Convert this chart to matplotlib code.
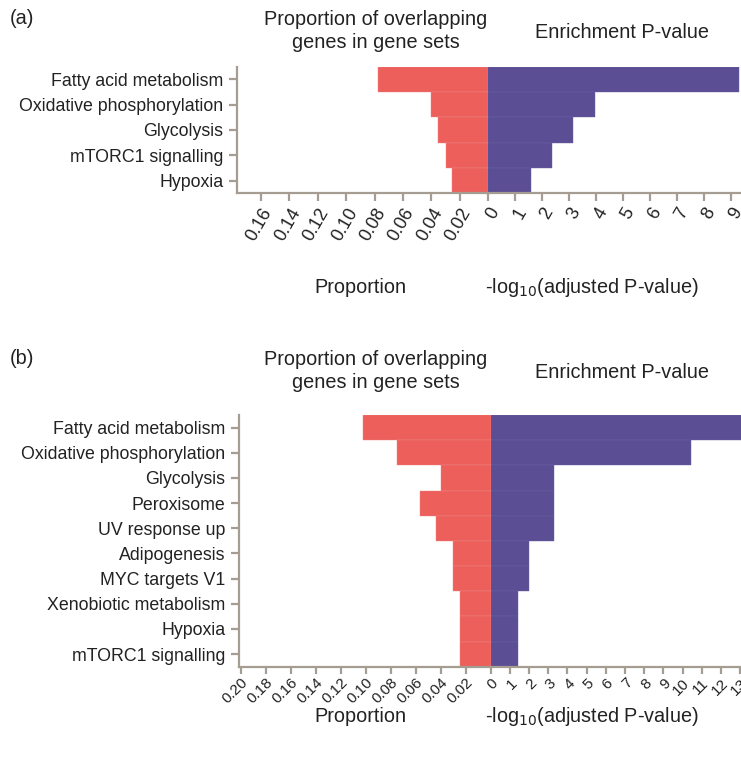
import matplotlib
matplotlib.use("Agg")
import matplotlib.pyplot as plt

plt.rcParams['font.family'] = ['Liberation Sans', 'DejaVu Sans']

# panel (a)
terms_a = ["Fatty acid metabolism", "Oxidative phosphorylation", "Glycolysis",
           "mTORC1 signalling", "Hypoxia"]
prop_a = [0.0777, 0.040, 0.0353, 0.0299, 0.0252]
logp_a = [9.32, 3.96, 3.16, 2.35, 1.60]
prop_ticks_a = [0.02, 0.04, 0.06, 0.08, 0.10, 0.12, 0.14, 0.16]
logp_ticks_a = list(range(0, 10))

# panel (b)
terms_b = ["Fatty acid metabolism", "Oxidative phosphorylation", "Glycolysis",
           "Peroxisome", "UV response up", "Adipogenesis", "MYC targets V1",
           "Xenobiotic metabolism", "Hypoxia", "mTORC1 signalling"]
prop_b = [0.102, 0.0747, 0.0398, 0.057, 0.0438, 0.030, 0.030, 0.0246, 0.0246, 0.0246]
logp_b = [13.5, 10.45, 3.3, 3.3, 3.3, 2.0, 2.0, 1.42, 1.42, 1.42]
prop_ticks_b = [0.02, 0.04, 0.06, 0.08, 0.10, 0.12, 0.14, 0.16, 0.18, 0.20]
logp_ticks_b = list(range(0, 14))

RED = "#ec5f5b"
BLUE = "#5b4e94"
SPINE = "#a59d92"
W, H = 741, 758


def rect(x0, y0, x1, y1):
    # pixel box -> figure fraction
    return [x0 / W, 1 - y1 / H, (x1 - x0) / W, (y1 - y0) / H]


def style_axis(ax, tsize, rot, tlen, tpad):
    for s in ["top", "right"]:
        ax.spines[s].set_visible(False)
    for s in ["left", "bottom"]:
        ax.spines[s].set_color(SPINE)
        ax.spines[s].set_linewidth(1.6)
    ax.tick_params(axis="both", color=SPINE, width=1.6, length=6,
                   labelcolor="#222222")
    ax.tick_params(axis="x", labelsize=tsize, labelrotation=rot,
                   length=tlen, pad=tpad)
    for lab in ax.get_xticklabels():
        lab.set_ha("right")
        lab.set_rotation_mode("anchor")


def panel(fig, terms, prop, logp, pticks, lticks, pmax, lmax, box, tick_style):
    xl, x0, x1, ytop, ybot = box
    n = len(terms)
    pos = list(range(n))
    axl = fig.add_axes(rect(xl, ytop, x0, ybot))
    axr = fig.add_axes(rect(x0, ytop, x1, ybot), sharey=axl)

    axl.barh(pos, prop, height=1.0, color=RED, edgecolor="#f08a86", linewidth=0.3)
    axl.set_xlim(pmax, 0)
    axl.set_xticks(pticks)
    axl.set_xticklabels(["%.2f" % t for t in pticks])
    axl.set_yticks(pos)
    axl.set_yticklabels(terms, fontsize=12.8, color="#222222")
    axl.set_ylim(n - 0.5, -0.5)

    axr.barh(pos, logp, height=1.0, color=BLUE, edgecolor="#6e63a3", linewidth=0.3)
    axr.set_xlim(0, lmax)
    axr.set_xticks(lticks)
    axr.set_xticklabels([str(t) for t in lticks])
    axr.spines["left"].set_visible(False)

    style_axis(axl, *tick_style)
    style_axis(axr, *tick_style)
    axr.tick_params(axis="y", left=False, labelleft=False)
    return axl, axr


fig = plt.figure(figsize=(W / 100, H / 100), dpi=100)

panel(fig, terms_a, prop_a, logp_a, prop_ticks_a, logp_ticks_a,
      0.177, 9.38, (236.7, 488.3, 741, 66.7, 193.3), (13, 60, 6, 2.5))
panel(fig, terms_b, prop_b, logp_b, prop_ticks_b, logp_ticks_b,
      0.2018, 13.05, (238.7, 490.7, 741, 415, 666.7), (11, 45, 5, 1.5))


def ftext(x, y, s, **kw):
    fig.text(x / W, 1 - y / H, s, va="center", color="#222222", **kw)


for top, lab, bottom in [(0, "(a)", 287), (340, "(b)", 717)]:
    ftext(10, top + 18, lab, fontsize=14.3, ha="left")
    ftext(376, top + 31, "Proportion of overlapping\ngenes in gene sets",
          fontsize=14.3, ha="center", linespacing=1.3)
    ftext(622, top + 32, "Enrichment P-value", fontsize=14.3, ha="center")
    ftext(360, bottom, "Proportion", fontsize=14.3, ha="center")
    ftext(592, bottom, r"-log$_{10}$(adjusted P-value)", fontsize=14.3, ha="center")

plt.savefig("out.png", dpi=100)
